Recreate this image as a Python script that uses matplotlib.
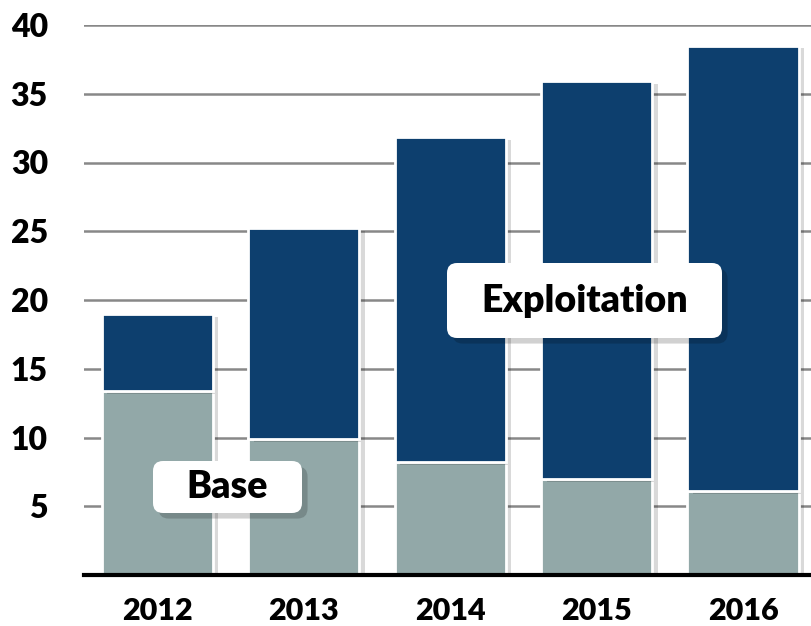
import matplotlib.pyplot as plt
import matplotlib.patheffects as pe
from matplotlib.patches import FancyBboxPatch
from matplotlib.transforms import IdentityTransform

# data
years = ["2012", "2013", "2014", "2015", "2016"]
base = [13.4, 9.9, 8.2, 7.0, 6.1]
exploitation = [5.6, 15.3, 23.65, 28.9, 32.4]
yticks = [5, 10, 15, 20, 25, 30, 35, 40]

plt.rcParams['font.family'] = ['Lato', 'DejaVu Sans']
plt.rcParams['font.weight'] = 'heavy'

W, H = 812, 626
fig = plt.figure(figsize=(W / 100, H / 100), dpi=100)
ax = fig.add_axes([84 / W, 1 - 575 / H, (W - 84) / W, 550 / H])

x = list(range(len(years)))
shadow = [pe.SimplePatchShadow(offset=(4, -2), shadow_rgbFace='#000000', alpha=0.15), pe.Normal()]

b1 = ax.bar(x, base, width=0.76, color='#92a8a8', edgecolor='white', linewidth=2, zorder=3)
b2 = ax.bar(x, exploitation, bottom=base, width=0.76, color='#0d3f6e', edgecolor='white', linewidth=2, zorder=3)
for r in list(b1) + list(b2):
    r.set_path_effects(shadow)

ax.set_xlim(-0.5, 4.47)
ax.set_ylim(0, 40)
ax.set_yticks(yticks)
ax.set_xticks(x)
ax.set_xticklabels(years)
ax.tick_params(axis='both', length=0, labelsize=22)
ax.tick_params(axis='y', labelsize=23, pad=26)
ax.tick_params(axis='x', pad=16)
for lab in ax.get_xticklabels() + ax.get_yticklabels():
    lab.set_fontweight('heavy')
ax.yaxis.grid(True, color='#888888', linewidth=1.8, zorder=0)
ax.set_axisbelow(True)
for s in ['top', 'right', 'left']:
    ax.spines[s].set_visible(False)
ax.spines['bottom'].set_linewidth(3)
ax.spines['bottom'].set_color('black')
ax.spines['bottom'].set_zorder(5)

# label boxes (pixel layout)
box_shadow = [pe.SimplePatchShadow(offset=(4, -4), shadow_rgbFace='#000000', alpha=0.18), pe.Normal()]
for (x0, y0, bw, bh, label) in [(153, 461, 149, 52, "Base"), (447, 263, 275, 75, "Exploitation")]:
    p = FancyBboxPatch((x0, H - y0 - bh), bw, bh, boxstyle='round,pad=0,rounding_size=10',
                       transform=IdentityTransform(), facecolor='white', edgecolor='none', zorder=6)
    p.set_path_effects(box_shadow)
    fig.patches.append(p)
    fig.text(x0 + bw / 2, H - y0 - bh / 2, label, transform=IdentityTransform(), ha='center', va='center',
             fontsize=27, fontweight='heavy', zorder=7)

fig.savefig("out.png", dpi=100)
